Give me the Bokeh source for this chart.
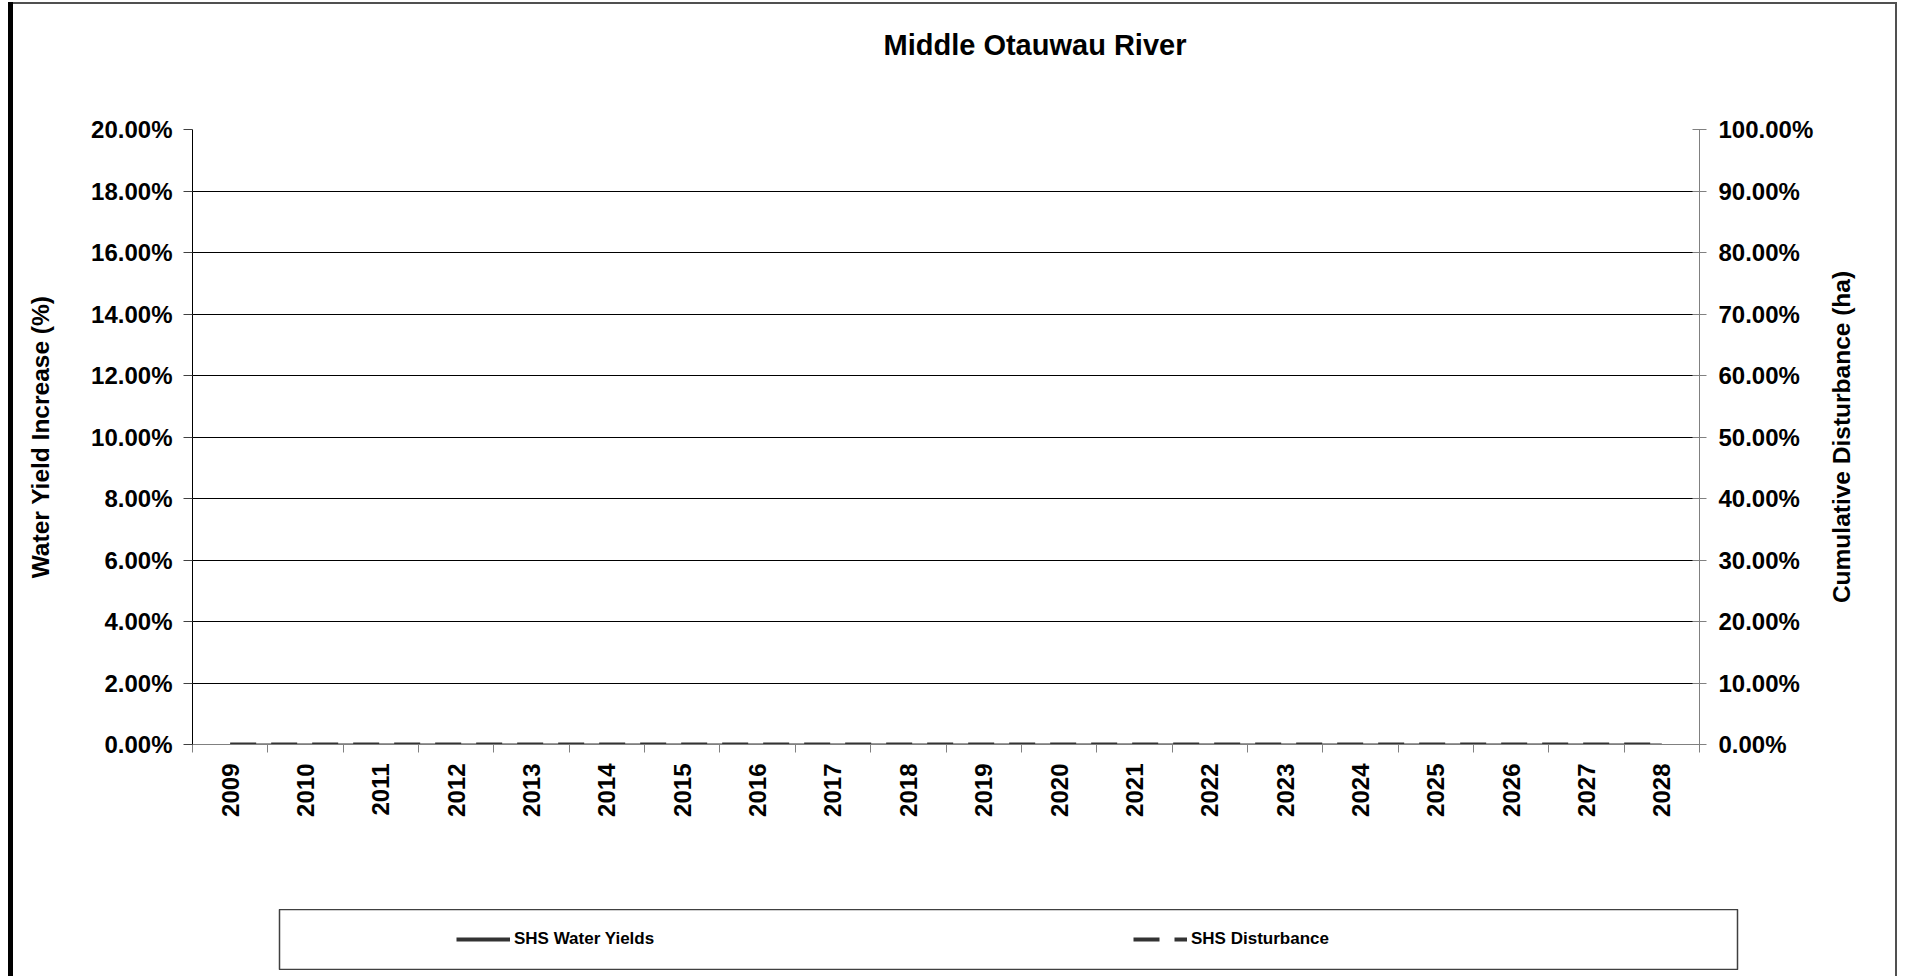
import math
from bokeh.plotting import figure
from bokeh.layouts import column, row
from bokeh.models import (Range1d, LinearAxis, NumeralTickFormatter, FixedTicker,
                          Legend, LegendItem, Grid, Spacer)
from bokeh.embed import file_html
from bokeh.resources import INLINE

# ---- data ----
years = [2009, 2010, 2011, 2012, 2013, 2014, 2015, 2016, 2017, 2018,
         2019, 2020, 2021, 2022, 2023, 2024, 2025, 2026, 2027, 2028]
water_yields = [0.0, 0.0, 0.0, 0.0, 0.0, 0.0, 0.0, 0.0, 0.0, 0.0,
                0.0, 0.0, 0.0, 0.0, 0.0, 0.0, 0.0, 0.0, 0.0, 0.0]
disturbance = [0.0, 0.0, 0.0, 0.0, 0.0, 0.0, 0.0, 0.0, 0.0, 0.0,
               0.0, 0.0, 0.0, 0.0, 0.0, 0.0, 0.0, 0.0, 0.0, 0.0]
left_ticks = [0.00, 0.02, 0.04, 0.06, 0.08, 0.10, 0.12, 0.14, 0.16, 0.18, 0.20]
right_ticks = [0.0, 0.1, 0.2, 0.3, 0.4, 0.5, 0.6, 0.7, 0.8, 0.9, 1.0]
title_text = "Middle Otauwau River"
left_label = "Water Yield Increase (%)"
right_label = "Cumulative Disturbance (ha)"
series_names = ["SHS Water Yields", "SHS Disturbance"]

FONT = "Liberation Sans"
DARK = "#333333"
GRAY = "#808080"

TOTAL_W = 1897
PW, H = 1822, 909
FL, FR, FT, FB = 192, 1699, 129, 744  # frame edges in canvas px

boundaries = [y - 0.5 for y in years] + [years[-1] + 0.5]

p = figure(width=PW, height=H, output_backend="svg", toolbar_location=None,
           x_range=Range1d(years[0] - 0.5, years[-1] + 0.5),
           y_range=Range1d(left_ticks[0], left_ticks[-1]),
           min_border_left=FL, min_border_right=PW - FR,
           min_border_top=FT, min_border_bottom=H - FB,
           x_axis_type=None, y_axis_type=None)
p.extra_y_ranges = {"right": Range1d(right_ticks[0], right_ticks[-1])}
p.outline_line_color = None
p.background_fill_color = "white"
p.border_fill_color = None

# title (blank trailing lines lift it away from the plot area)
p.title.text = title_text + "\n \n "
p.title.text_font = FONT
p.title.text_font_size = "29px"
p.title.text_font_style = "bold"
p.title.text_color = "black"
p.title.align = "left"
p.title.offset = 883 - FL
p.title.standoff = 10

# x axis
xaxis = LinearAxis(ticker=FixedTicker(ticks=years, minor_ticks=boundaries))
xaxis.major_label_overrides = {y: str(y) for y in years}
xaxis.major_tick_in = 0
xaxis.major_tick_out = 0
xaxis.major_tick_line_color = None
xaxis.minor_tick_in = 0
xaxis.minor_tick_out = 8
xaxis.minor_tick_line_color = GRAY
xaxis.minor_tick_line_width = 1
xaxis.axis_line_color = GRAY
xaxis.major_label_orientation = math.pi / 2
xaxis.major_label_standoff = 11
xaxis.major_label_text_font = FONT
xaxis.major_label_text_font_size = "24px"
xaxis.major_label_text_font_style = "bold"
xaxis.major_label_text_color = "black"
p.add_layout(xaxis, "below")

# left axis
yaxis = LinearAxis(ticker=FixedTicker(ticks=left_ticks),
                   formatter=NumeralTickFormatter(format="0.00%"))
yaxis.major_tick_in = 0
yaxis.major_tick_out = 9
yaxis.major_tick_line_color = "#404040"
yaxis.minor_tick_line_color = None
yaxis.axis_line_color = "black"
yaxis.major_label_standoff = 11
yaxis.major_label_text_font = FONT
yaxis.major_label_text_font_size = "24px"
yaxis.major_label_text_font_style = "bold"
yaxis.major_label_text_color = "black"
yaxis.axis_label = left_label
yaxis.axis_label_standoff = 34
yaxis.axis_label_text_font = FONT
yaxis.axis_label_text_font_size = "24.5px"
yaxis.axis_label_text_font_style = "bold"
yaxis.axis_label_text_color = "black"
p.add_layout(yaxis, "left")

# right axis (ticks and tick labels)
raxis = LinearAxis(y_range_name="right", ticker=FixedTicker(ticks=right_ticks),
                   formatter=NumeralTickFormatter(format="0.00%"))
raxis.major_tick_in = 7
raxis.major_tick_out = 7
raxis.major_tick_line_color = GRAY
raxis.minor_tick_line_color = None
raxis.axis_line_color = GRAY
raxis.major_label_standoff = 12
raxis.major_label_text_font = FONT
raxis.major_label_text_font_size = "24px"
raxis.major_label_text_font_style = "bold"
raxis.major_label_text_color = "black"
p.add_layout(raxis, "right")

# grid
grid = Grid(dimension=1, ticker=FixedTicker(ticks=left_ticks))
grid.grid_line_color = "black"
grid.grid_line_width = 1
p.add_layout(grid)

# series
r1 = p.line(years, water_yields, line_color=DARK, line_width=2)
r2 = p.line(years, disturbance, line_color=DARK, line_width=4,
            line_dash="26 15", y_range_name="right")

# ---- strip to the right holding the secondary axis title (reads bottom-to-top) ----
RW = TOTAL_W - PW
RL = 32
r = figure(width=RW, height=H, output_backend="svg", toolbar_location=None,
           x_range=Range1d(0, 1), y_range=Range1d(right_ticks[0], right_ticks[-1]),
           min_border_left=RL, min_border_right=10,
           min_border_top=FT, min_border_bottom=H - FB,
           x_axis_type=None, y_axis_type=None)
r.outline_line_color = None
r.background_fill_color = None
r.border_fill_color = None
lab_axis = LinearAxis(ticker=FixedTicker(ticks=[]))
lab_axis.axis_line_color = None
lab_axis.major_tick_in = 0
lab_axis.major_tick_out = 0
lab_axis.major_tick_line_color = None
lab_axis.minor_tick_line_color = None
lab_axis.major_label_standoff = 0
lab_axis.axis_label = right_label
lab_axis.axis_label_standoff = 0
lab_axis.axis_label_text_font = FONT
lab_axis.axis_label_text_font_size = "24.5px"
lab_axis.axis_label_text_font_style = "bold"
lab_axis.axis_label_text_color = "black"
r.add_layout(lab_axis, "left")

# ---- legend strip (its frame outline is the legend box) ----
LL, LR = 279, 1737
QW = FL + (LR - LL) + 2
q = figure(width=QW, height=61, output_backend="svg", toolbar_location=None,
           x_range=Range1d(years[0] - 0.5, years[-1] + 0.5),
           y_range=Range1d(1, 2),
           min_border_left=FL, min_border_right=2,
           min_border_top=0, min_border_bottom=1,
           x_axis_type=None, y_axis_type=None)
q.outline_line_color = "#404040"
q.outline_line_width = 1.5
q.background_fill_color = "white"
q.border_fill_color = None
q1 = q.line(years, water_yields, line_color=DARK, line_width=4)
q2 = q.line(years, disturbance, line_color=DARK, line_width=4, line_dash="26 15")

legend = Legend(items=[LegendItem(label=series_names[0], renderers=[q1]),
                       LegendItem(label=series_names[1], renderers=[q2])],
                orientation="horizontal", location=(456 - LL, 18),
                border_line_color=None, background_fill_alpha=0,
                padding=0, margin=0, spacing=419,
                glyph_width=54, glyph_height=24, label_standoff=4,
                label_width=200, label_height=24,
                label_text_font=FONT, label_text_font_size="17px",
                label_text_font_style="bold", label_text_color="black")
q.add_layout(legend, "center")

layout = column(row(p, r, spacing=0),
                row(Spacer(width=LL - FL, height=67), q, spacing=0),
                spacing=0)
# chart-area frame: thin top/right border and heavy left rule
layout.styles = {
    "box-shadow": ("inset 8px 0 0 0 white, inset 0 2px 0 0 white, "
                   "inset 13px 0 0 0 black, inset 0 4px 0 0 #505050, "
                   "inset -2px 0 0 0 #505050"),
    "background-color": "white",
}
open("out.html", "w").write(file_html(layout, INLINE))
